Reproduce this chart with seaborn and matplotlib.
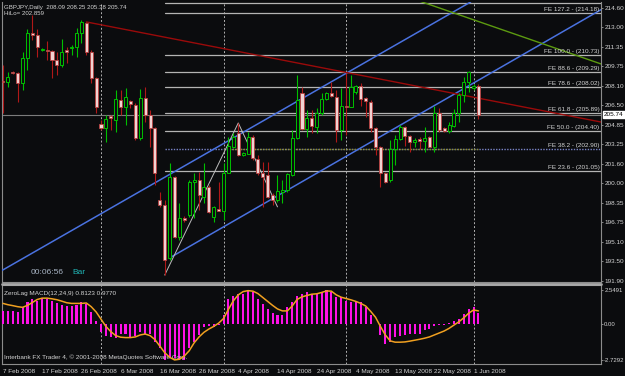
import numpy as np
import pandas as pd
import matplotlib
matplotlib.use("Agg")
import matplotlib.pyplot as plt
import matplotlib.transforms as mtransforms
from matplotlib.lines import Line2D
import seaborn as sns

# ---------------- data ----------------
opens = [208.54, 208.46, 209.29, 209.21, 208.37, 210.46, 212.54, 212.37, 211.12, 211.12,
         211.04, 210.29, 209.87, 211.12, 211.29, 211.37, 212.54, 213.37, 210.96, 208.79,
         204.96, 204.62, 205.62, 205.29, 206.96, 206.37, 206.87, 206.54, 203.79, 207.12,
         205.71, 204.62, 198.62, 198.21, 193.79, 200.54, 195.54, 197.12, 197.37, 200.12,
         200.29, 198.87, 199.71, 197.21, 197.87, 197.71, 200.87, 203.04, 204.21, 202.37,
         202.46, 203.87, 202.04, 200.87, 200.71, 199.04, 198.62, 199.29, 199.46, 200.71,
         203.79, 207.54, 204.54, 205.46, 204.71, 205.87, 207.04, 207.54, 207.21, 204.46,
         206.46, 206.37, 207.62, 208.12, 207.12, 206.79, 204.62, 203.04, 200.87, 200.29,
         202.87, 203.71, 204.71, 203.96, 203.46, 203.71, 203.54, 203.87, 203.04, 205.87,
         204.62, 204.37, 204.79, 205.87, 207.37, 208.46, 207.96, 208.09]
highs = [209.87, 209.29, 209.37, 209.29, 210.96, 212.87, 214.04, 212.87, 211.29, 211.87,
         211.12, 210.96, 212.04, 211.37, 211.54, 212.96, 213.62, 213.46, 211.12, 208.87,
         205.29, 205.71, 205.71, 207.79, 207.79, 207.96, 206.96, 206.71, 207.87, 208.04,
         206.12, 204.71, 199.29, 198.62, 201.71, 200.62, 198.37, 197.29, 200.29, 200.87,
         200.96, 201.71, 199.87, 198.12, 200.12, 201.71, 203.87, 204.21, 205.04, 202.62,
         204.29, 204.04, 202.37, 201.79, 201.79, 199.21, 200.71, 200.29, 200.87, 204.46,
         209.04, 208.04, 206.12, 206.12, 206.29, 207.54, 207.62, 208.46, 207.79, 207.96,
         209.21, 209.04, 208.21, 208.37, 207.21, 206.96, 204.71, 203.12, 200.96, 203.62,
         204.04, 204.87, 204.79, 204.04, 203.79, 203.87, 204.71, 203.96, 206.46, 206.29,
         204.71, 205.12, 206.21, 207.54, 208.87, 209.37, 208.29, 208.25]
lows = [205.87, 208.04, 209.12, 206.79, 207.79, 209.46, 211.96, 210.54, 211.04, 210.29,
        208.79, 209.04, 209.71, 210.04, 210.71, 210.54, 211.71, 210.71, 208.37, 205.87,
        204.46, 203.46, 204.46, 204.29, 205.71, 204.87, 206.29, 203.62, 203.62, 205.12,
        203.04, 199.87, 198.04, 192.37, 193.62, 195.46, 195.29, 196.79, 197.21, 197.12,
        197.79, 198.37, 197.54, 196.79, 197.71, 196.96, 200.87, 202.96, 202.29, 202.29,
        202.46, 201.96, 200.71, 198.04, 198.79, 198.21, 198.46, 198.37, 199.29, 200.62,
        203.71, 204.46, 203.87, 204.21, 204.21, 205.71, 206.96, 207.21, 203.46, 203.62,
        204.04, 206.37, 207.46, 206.46, 205.54, 204.29, 202.37, 199.71, 200.04, 200.12,
        201.54, 203.62, 203.12, 202.62, 203.04, 202.87, 202.62, 203.04, 202.62, 204.29,
        204.29, 204.21, 204.71, 205.12, 206.79, 207.62, 207.79, 205.38]
closes = [208.46, 208.87, 209.21, 208.37, 210.46, 212.54, 212.37, 211.37, 211.21, 211.04,
          210.29, 209.87, 210.96, 210.96, 211.37, 212.54, 213.46, 210.96, 208.79, 206.37,
          204.62, 205.37, 205.46, 207.04, 206.37, 207.21, 206.62, 203.79, 207.12, 205.71,
          204.62, 200.87, 198.21, 193.62, 200.54, 195.54, 197.12, 196.96, 200.12, 200.29,
          199.04, 199.71, 197.62, 198.04, 197.71, 200.87, 203.12, 203.87, 202.37, 202.54,
          203.87, 202.12, 200.87, 200.54, 198.87, 198.62, 199.37, 199.46, 200.79, 203.79,
          206.96, 204.54, 205.46, 204.79, 205.87, 207.04, 207.54, 207.29, 204.46, 206.46,
          206.37, 208.04, 208.12, 207.04, 206.87, 204.62, 203.04, 200.87, 200.12, 202.87,
          203.71, 204.71, 203.96, 203.46, 203.62, 203.54, 203.79, 203.04, 205.87, 204.46,
          204.37, 204.87, 205.87, 207.37, 208.46, 209.29, 208.09, 205.74]

macd_hist = [1.00, 1.00, 0.95, 0.88, 1.25, 1.63, 1.88, 1.75, 1.95, 1.88,
             1.75, 1.55, 1.43, 1.38, 1.38, 1.45, 1.63, 1.50, 0.88, 0.20,
             -0.63, -0.95, -1.00, -1.05, -0.75, -0.75, -1.05, -0.95, -0.63, -0.75,
             -0.75, -1.38, -1.88, -2.75, -2.63, -2.63, -2.70, -2.75, -1.88, -1.38,
             -0.88, -0.25, -0.20, -0.25, -0.12, 0.63, 1.88, 2.13, 2.26, 2.30,
             2.55, 2.38, 1.88, 1.50, 1.13, 0.83, 0.63, 0.68, 1.25, 1.63,
             2.13, 2.26, 2.38, 2.26, 2.30, 2.38, 2.55, 2.38, 2.00, 2.00,
             1.70, 1.63, 1.75, 1.63, 1.25, 0.63, -0.05, -0.88, -1.55, -1.38,
             -1.00, -0.95, -0.88, -0.75, -0.75, -0.75, -0.50, -0.38, -0.18, -0.12,
             -0.08, 0.05, 0.20, 0.38, 0.75, 1.13, 1.25, 0.81]
macd_signal = [1.55, 1.45, 1.38, 1.30, 1.25, 1.40, 1.62, 1.85, 1.95, 1.95,
               1.90, 1.83, 1.72, 1.60, 1.55, 1.55, 1.55, 1.58, 1.30, 0.90,
               0.35, -0.20, -0.60, -0.90, -1.02, -1.05, -1.05, -1.00, -0.85, -0.78,
               -0.90, -1.20, -1.70, -2.20, -2.55, -2.75, -2.70, -2.45, -2.05, -1.45,
               -1.00, -0.65, -0.40, -0.20, 0.05, 0.40, 1.10, 1.75, 2.20, 2.45,
               2.52, 2.48, 2.30, 2.00, 1.70, 1.40, 1.13, 0.98, 0.98, 1.35,
               1.85, 2.05, 2.15, 2.25, 2.28, 2.38, 2.50, 2.48, 2.20, 2.02,
               1.92, 1.82, 1.70, 1.55, 1.35, 0.95, 0.50, -0.20, -0.85, -1.30,
               -1.40, -1.40, -1.38, -1.32, -1.25, -1.18, -1.10, -1.00, -0.85, -0.70,
               -0.55, -0.35, -0.10, 0.15, 0.45, 0.80, 1.05, 0.98]

date_positions = [0, 8, 16, 24, 32, 40, 48, 56, 64, 72, 80, 88, 96]
date_labels = ['7 Feb 2008', '17 Feb 2008', '26 Feb 2008', '6 Mar 2008', '16 Mar 2008',
               '26 Mar 2008', '4 Apr 2008', '14 Apr 2008', '24 Apr 2008', '4 May 2008',
               '13 May 2008', '22 May 2008', '1 Jun 2008']
month_separators = [20, 45, 70, 96]

price_ticks = [214.60, 213.00, 211.35, 209.75, 208.10, 206.50, 204.85, 203.25,
               201.60, 200.00, 198.35, 196.75, 195.10, 193.50, 191.90]
macd_ticks = [2.5491, 0.0, -2.7292]
macd_tick_labels = ['2.5491', '0.00', '-2.7292']

fe_names = ['FE 23.6', 'FE 38.2', 'FE 50.0', 'FE 61.8', 'FE 78.6', 'FE 88.6', 'FE 100.0', 'FE 127.2']
fe_levels = [201.05, 202.90, 204.40, 205.89, 208.02, 209.29, 210.73, 214.18]
fe_start = 33
fe_top_level = 215.07

zigzag_x = [33, 48, 56]
zigzag_p = [192.37, 205.04, 198.05]
upper_channel = [(0, 192.80), (48, 204.03)]
lower_channel_x = [34, 122]
lower_channel_p = [193.80, 214.48]
red_line_x = [17, 122]
red_line_p = [213.46, 205.12]
green_line_x = [80, 122]
green_line_p = [215.90, 209.96]
olive_line_x = [45, 97]
olive_line_p = [202.90, 202.90]
last_price = 205.74

# ---------------- style ----------------
BG = '#0b0c0e'
TXT = '#d4d4d4'
sns.set_theme(style='dark', rc={'axes.facecolor': BG, 'figure.facecolor': BG,
                                'axes.edgecolor': '#8c8c8c', 'axes.grid': False})
plt.rcParams['font.family'] = ['Liberation Sans', 'DejaVu Sans']
FS = 4.6

W, H = 625, 376


def px_rect(x0, y0, x1, y1):
    return [x0 / W, 1 - y1 / H, (x1 - x0) / W, (y1 - y0) / H]


fig = plt.figure(figsize=(W / 100, H / 100), dpi=100)
ax = fig.add_axes(px_rect(2, 2, 601, 282))
ax2 = fig.add_axes(px_rect(2, 285, 601, 364))

df = pd.DataFrame({'open': opens, 'high': highs, 'low': lows, 'close': closes})
df['idx'] = np.arange(len(df))
bull = df['close'] >= df['open']
bear = ~bull

GREEN = '#00c000'
WICK_RED = '#b01818'
BEAR_FACE = '#f1d2d2'

XL = (-0.2, 122.0)

# month separators (both panels)
for a in (ax, ax2):
    for s in month_separators:
        a.axvline(s, color='#b0b0b0', lw=0.7, ls=(0, (2, 2)), zorder=1)

# FE levels
ax.plot([fe_start, XL[1]], [fe_top_level, fe_top_level], color='#b4b4b4', lw=0.9, zorder=2)
for name, lev in zip(fe_names, fe_levels):
    if name == 'FE 38.2':
        ax.plot([fe_start, XL[1]], [lev, lev], color='#7a84c8', lw=1.0, ls=(0, (1, 1)), zorder=2)
    else:
        ax.plot([fe_start, XL[1]], [lev, lev], color='#b4b4b4', lw=0.9, zorder=2)
    ax.text(XL[1] - 0.3, lev + 0.08, f'{name} - ({lev:.2f})', color=TXT, fontsize=FS,
            ha='right', va='bottom', zorder=6)
ax.plot(olive_line_x, olive_line_p, color='#8a8a20', lw=1.0, ls=(0, (1, 1)), zorder=2)

# current price line
ax.axhline(last_price, color='#7c7c7c', lw=0.8, zorder=2)

# trend lines
ax.axline(upper_channel[0], upper_channel[1], color='#4a72e0', lw=1.1, zorder=3)
ax.plot(lower_channel_x, lower_channel_p, color='#4a72e0', lw=1.1, zorder=3)
ax.plot(red_line_x, red_line_p, color='#9a0a0a', lw=1.0, zorder=3)
ax.plot(green_line_x, green_line_p, color='#5c9a10', lw=1.0, zorder=3)
ax.plot(zigzag_x, zigzag_p, color='#bdbdbd', lw=0.7, zorder=3)

# candles: wicks
ax.vlines(df.loc[bull, 'idx'], df.loc[bull, 'low'], df.loc[bull, 'high'], color=GREEN, lw=0.8, zorder=4)
ax.vlines(df.loc[bear, 'idx'], df.loc[bear, 'low'], df.loc[bear, 'high'], color=WICK_RED, lw=0.8, zorder=4)
# bodies
body_bottom = np.minimum(df['open'], df['close'])
body_height = np.maximum((df['close'] - df['open']).abs(), 0.04)
ax.bar(df.loc[bull, 'idx'], body_height[bull], bottom=body_bottom[bull], width=0.62,
       facecolor=BG, edgecolor=GREEN, linewidth=0.7, zorder=5)
ax.bar(df.loc[bear, 'idx'], body_height[bear], bottom=body_bottom[bear], width=0.62,
       facecolor=BEAR_FACE, edgecolor='#b84040', linewidth=0.6, zorder=5)

ax.set_xlim(*XL)
ax.set_ylim(191.79, 215.12)
ax.set_xticks([])
ax.yaxis.tick_right()
ax.set_yticks(price_ticks)
ax.set_yticklabels([f'{t:.2f}' for t in price_ticks])
ax.tick_params(axis='y', colors='#9a9a9a', labelcolor=TXT, labelsize=FS, length=1.5, width=0.6, pad=1.0)
for sp in ax.spines.values():
    sp.set_color('#8c8c8c')
    sp.set_linewidth(0.8)
ax.spines['top'].set_visible(False)

# last price tag
trans = mtransforms.blended_transform_factory(ax.transAxes, ax.transData)
ax.text(1.005, last_price, f'{last_price:.2f}', transform=trans, fontsize=FS, color='black',
        ha='left', va='center', bbox=dict(boxstyle='square,pad=0.15', fc='white', ec='white'),
        clip_on=False, zorder=7)

ax.text(29 / 599, 192.6, '00:06:56', transform=trans, color='#a8b4c4', fontsize=6.0,
        ha='left', va='center')
ax.text(70 / 599, 192.6, 'Bar', transform=trans, color='#20b4b4', fontsize=6.0,
        ha='left', va='center')

# ---------------- MACD panel ----------------
mdf = pd.DataFrame({'idx': np.arange(len(macd_hist)), 'hist': macd_hist, 'signal': macd_signal})
ax2.bar(mdf['idx'], mdf['hist'], width=0.42, color='#ff10e8', linewidth=0, zorder=3)
sns.lineplot(data=mdf, x='idx', y='signal', ax=ax2, color='#f0a020', lw=1.1, zorder=4)
ax2.set_xlim(*XL)
ax2.set_ylim(-3.06, 2.95)
ax2.set_xlabel('')
ax2.set_ylabel('')
ax2.yaxis.tick_right()
ax2.set_yticks(macd_ticks)
ax2.set_yticklabels(macd_tick_labels)
ax2.set_xticks(date_positions)
ax2.set_xticklabels(date_labels, ha='left')
ax2.tick_params(axis='y', colors='#9a9a9a', labelcolor=TXT, labelsize=4.3, length=1.5, width=0.6, pad=0.8)
ax2.tick_params(axis='x', colors='#9a9a9a', labelcolor=TXT, labelsize=FS, length=2.5, width=0.6, pad=1)
for lab in ax2.get_xticklabels():
    lab.set_horizontalalignment('left')
for sp in ax2.spines.values():
    sp.set_color('#8c8c8c')
    sp.set_linewidth(0.8)

ax2.text(0.004, 0.93, 'ZeroLag MACD(12,24,9) 0.8123 0.9770', transform=ax2.transAxes,
         color=TXT, fontsize=FS, ha='left', va='top')
ax2.text(0.004, 0.05, 'Interbank FX Trader 4, \u00a9 2001-2008 MetaQuotes Software Corp.',
         transform=ax2.transAxes, color=TXT, fontsize=FS, ha='left', va='bottom')

# panel separator
fig.add_artist(Line2D([2 / W, 601 / W], [1 - 283.5 / H, 1 - 283.5 / H], color='#a8a8a8', lw=2.0))

# header
fig.text(4 / W, 1 - 7 / H, 'GBPJPY,Daily  208.09 208.25 205.38 205.74', color=TXT, fontsize=4.4,
         ha='left', va='center')
fig.text(4 / W, 1 - 13.5 / H, 'HiLo= 202.859', color=TXT, fontsize=4.4, ha='left', va='center')

fig.savefig('out.png', dpi=100, facecolor=BG)
